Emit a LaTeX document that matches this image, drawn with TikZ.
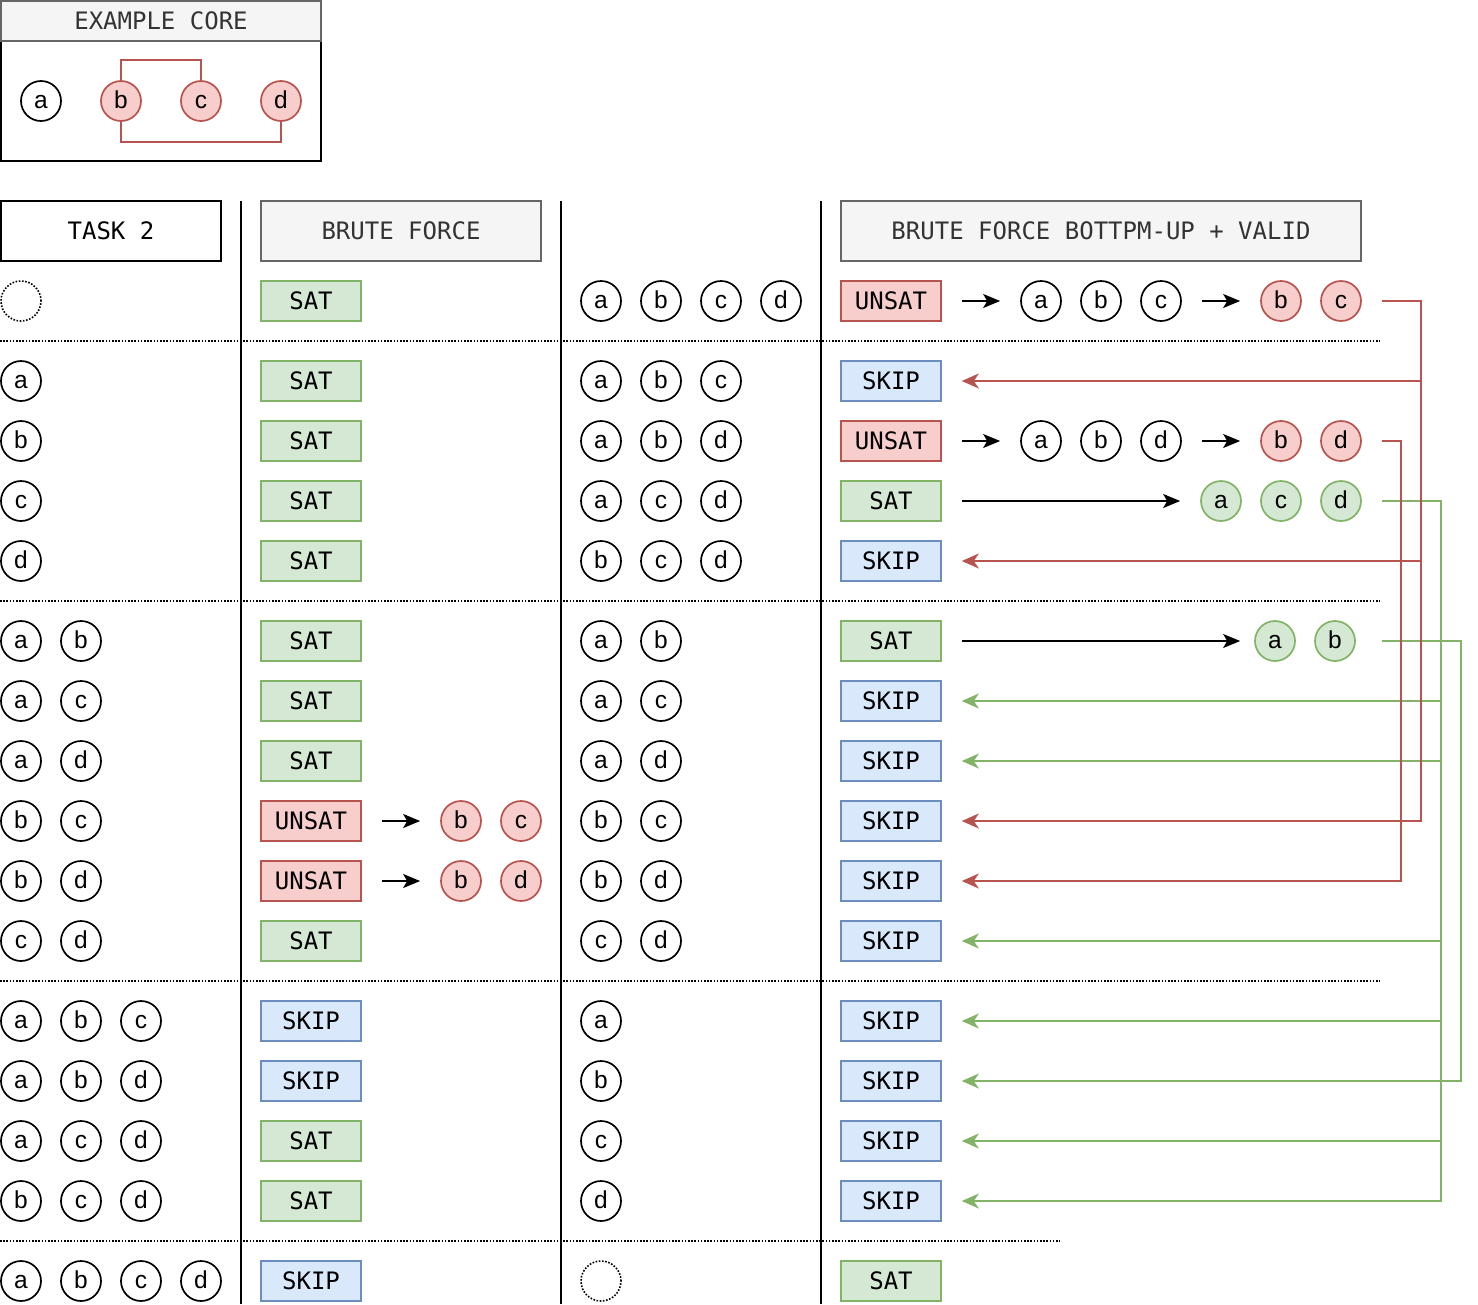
\documentclass[tikz,border=0pt]{standalone}
\usepackage{fontspec}
\setmainfont{Liberation Sans}
\newfontfamily\monof{DejaVu Sans Mono}
\usetikzlibrary{arrows.meta}
\definecolor{rfill}{HTML}{F8CECC}
\definecolor{rstroke}{HTML}{B85450}
\definecolor{gfill}{HTML}{D5E8D4}
\definecolor{gstroke}{HTML}{82B366}
\definecolor{bfill}{HTML}{DAE8FC}
\definecolor{bstroke}{HTML}{6C8EBF}
\definecolor{hfill}{HTML}{F5F5F5}
\definecolor{hstroke}{HTML}{666666}
\definecolor{htext}{HTML}{333333}
\begin{document}
\begin{tikzpicture}[x=1pt,y=-1pt,
  v/.style={circle,draw,line width=1.7pt,minimum size=40pt,inner sep=0pt,
    text height=14.6pt,text depth=0pt,font=\fontsize{24.5}{24}\selectfont},
  vr/.style={v,draw=rstroke,fill=rfill},
  vg/.style={v,draw=gstroke,fill=gfill},
  vempty/.style={circle,draw,line width=1.6pt,minimum size=40pt,inner sep=0pt,dash pattern=on 1.6pt off 1.6pt},
  st/.style={rectangle,draw,line width=1.6pt,minimum width=100pt,minimum height=40pt,inner sep=0pt,
    font=\monof\fontsize{24}{24}\selectfont},
  satbox/.style={draw=gstroke,fill=gfill},
  unsatbox/.style={draw=rstroke,fill=rfill},
  skipbox/.style={draw=bstroke,fill=bfill},
  hdr/.style={rectangle,draw=hstroke,fill=hfill,line width=1.6pt,inner sep=0pt,text=htext,
    font=\monof\fontsize{24}{24}\selectfont},
  sep/.style={line width=2pt,black},
  dots/.style={line width=1.6pt,black,dash pattern=on 1.6pt off 1.6pt},
  blk/.style={line width=1.6pt,black,-{Stealth[length=17pt,width=14pt,inset=4pt]}},
  redl/.style={line width=1.6pt,rstroke,-{Stealth[length=17pt,width=15pt,inset=5pt]}},
  grnl/.style={line width=1.6pt,gstroke,-{Stealth[length=17pt,width=15pt,inset=5pt]}}
]
\useasboundingbox (0,0) rectangle (1478,1304);

% Example core
\node[draw,line width=2.4pt,minimum width=320pt,minimum height=120pt,inner sep=0pt] (exb) at (161,101) {};
\node[hdr,minimum width=320pt,minimum height=40pt] (exh) at (161,21) {EXAMPLE CORE};
\node[v] (ea) at (41,101) {a};
\node[vr] (eb) at (121,101) {b};
\node[vr] (ec) at (201,101) {c};
\node[vr] (ed) at (281,101) {d};
\draw[line width=1.6pt,rstroke] (eb.north) -- ++(0,-20) -| (ec.north);
\draw[line width=1.6pt,rstroke] (eb.south) -- ++(0,20) -| (ed.south);

% Headers
\node[draw,fill=white,line width=2.4pt,minimum width=220pt,minimum height=60pt,inner sep=0pt,
  font=\monof\fontsize{24}{24}\selectfont] (task) at (111,231) {TASK 2};
\node[hdr,minimum width=280pt,minimum height=60pt] (bf) at (401,231) {BRUTE FORCE};
\node[hdr,minimum width=520pt,minimum height=60pt] (bfu) at (1101,231) {BRUTE FORCE BOTTPM-UP + VALID};

% Separators
\draw[sep] (241,201) -- (241,1304);
\draw[sep] (561,201) -- (561,1304);
\draw[sep] (821,201) -- (821,1304);
\draw[dots] (0,341) -- (1380,341);
\draw[dots] (0,601) -- (1380,601);
\draw[dots] (0,981) -- (1380,981);
\draw[dots] (0,1241) -- (1060,1241);

% Column 1
\node[vempty] (L301) at (21,301) {};
\foreach \y/\ls in {381/{a},441/{b},501/{c},561/{d},641/{a,b},701/{a,c},761/{a,d},821/{b,c},881/{b,d},941/{c,d},1021/{a,b,c},1081/{a,b,d},1141/{a,c,d},1201/{b,c,d},1281/{a,b,c,d}}
  {\foreach \l [count=\i] in \ls {\node[v] (L\y-\i) at ({21+60*(\i-1)},\y) {\l};}}

% Column 2
\foreach \y/\s/\t in {301/satbox/SAT,381/satbox/SAT,441/satbox/SAT,501/satbox/SAT,561/satbox/SAT,
  641/satbox/SAT,701/satbox/SAT,761/satbox/SAT,821/unsatbox/UNSAT,881/unsatbox/UNSAT,941/satbox/SAT,
  1021/skipbox/SKIP,1081/skipbox/SKIP,1141/satbox/SAT,1201/satbox/SAT,1281/skipbox/SKIP}
  {\node[st,\s] (P\y) at (311,\y) {\t};}
\node[vr] (P821b) at (461,821) {b};
\node[vr] (P821c) at (521,821) {c};
\node[vr] (P881b) at (461,881) {b};
\node[vr] (P881d) at (521,881) {d};
\draw[blk] ([xshift=20pt]P821.east) -- ([xshift=-20pt]P821b.west);
\draw[blk] ([xshift=20pt]P881.east) -- ([xshift=-20pt]P881b.west);

% Column 3
\foreach \y/\ls in {301/{a,b,c,d},381/{a,b,c},441/{a,b,d},501/{a,c,d},561/{b,c,d},641/{a,b},701/{a,c},761/{a,d},821/{b,c},881/{b,d},941/{c,d},1021/{a},1081/{b},1141/{c},1201/{d}}
  {\foreach \l [count=\i] in \ls {\node[v] (M\y-\i) at ({601+60*(\i-1)},\y) {\l};}}
\node[vempty] (M1281) at (601,1281) {};

% Column 4
\foreach \y/\s/\t in {301/unsatbox/UNSAT,381/skipbox/SKIP,441/unsatbox/UNSAT,501/satbox/SAT,561/skipbox/SKIP,
  641/satbox/SAT,701/skipbox/SKIP,761/skipbox/SKIP,821/skipbox/SKIP,881/skipbox/SKIP,941/skipbox/SKIP,
  1021/skipbox/SKIP,1081/skipbox/SKIP,1141/skipbox/SKIP,1201/skipbox/SKIP,1281/satbox/SAT}
  {\node[st,\s] (Q\y) at (891,\y) {\t};}

\node[v] (Q301a) at (1041,301) {a};
\node[v] (Q301b) at (1101,301) {b};
\node[v] (Q301c) at (1161,301) {c};
\node[vr] (Q301rb) at (1281,301) {b};
\node[vr] (Q301rc) at (1341,301) {c};
\draw[blk] ([xshift=20pt]Q301.east) -- ([xshift=-20pt]Q301a.west);
\draw[blk] ([xshift=20pt]Q301c.east) -- ([xshift=-20pt]Q301rb.west);

\node[v] (Q441a) at (1041,441) {a};
\node[v] (Q441b) at (1101,441) {b};
\node[v] (Q441d) at (1161,441) {d};
\node[vr] (Q441rb) at (1281,441) {b};
\node[vr] (Q441rd) at (1341,441) {d};
\draw[blk] ([xshift=20pt]Q441.east) -- ([xshift=-20pt]Q441a.west);
\draw[blk] ([xshift=20pt]Q441d.east) -- ([xshift=-20pt]Q441rb.west);

\node[vg] (Q501ga) at (1221,501) {a};
\node[vg] (Q501gc) at (1281,501) {c};
\node[vg] (Q501gd) at (1341,501) {d};
\draw[blk] ([xshift=20pt]Q501.east) -- ([xshift=-20pt]Q501ga.west);

\node[vg] (Q641ga) at (1275,641) {a};
\node[vg] (Q641gb) at (1335,641) {b};
\draw[blk] ([xshift=20pt]Q641.east) -- ([xshift=-14pt]Q641ga.west);

% Feedback connectors
\coordinate (J1) at (1421,301);
\coordinate (J2) at (1401,441);
\coordinate (J3) at (1441,501);
\coordinate (J4) at (1461,641);

\draw[grnl] ([xshift=20pt]Q501gd.east) -- (J3) |- ([xshift=20pt]Q1201.east);
\foreach \y in {701,761,941,1021,1141}
  {\draw[grnl] (J3 |- Q\y) -- ([xshift=20pt]Q\y.east);}
\draw[grnl] ([xshift=26pt]Q641gb.east) -- (J4) |- ([xshift=20pt]Q1081.east);

\draw[redl] ([xshift=20pt]Q301rc.east) -- (J1) |- ([xshift=20pt]Q821.east);
\draw[redl] (J1 |- Q381) -- ([xshift=20pt]Q381.east);
\draw[redl] (J1 |- Q561) -- ([xshift=20pt]Q561.east);
\draw[redl] ([xshift=20pt]Q441rd.east) -- (J2) |- ([xshift=20pt]Q881.east);
\end{tikzpicture}
\end{document}
